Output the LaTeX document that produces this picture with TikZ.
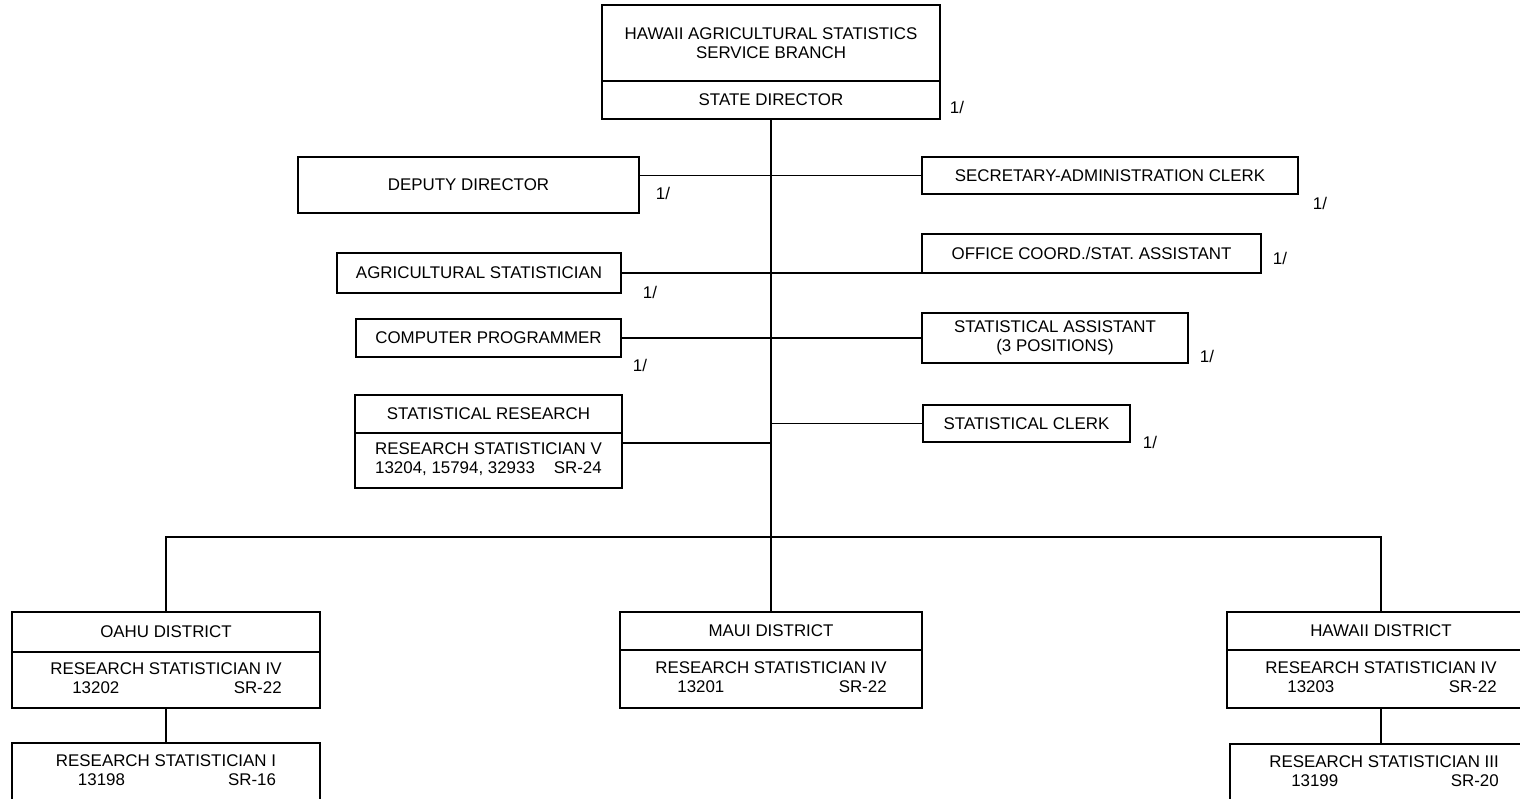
\documentclass[tikz,border=0pt]{standalone}
\usepackage{fontspec}
\setmainfont{Liberation Sans}
\usetikzlibrary{positioning}

\begin{document}
\begin{tikzpicture}[x=1pt, y=-1pt, % one unit = one pixel, y downwards
    box/.style={draw, line width=1.4pt, inner sep=0pt, outer sep=0pt, align=center,
      font=\fontsize{16.9}{19}\selectfont},
    link/.style={line width=1.5pt},
    note/.style={inner sep=0pt, font=\fontsize{16.9}{19}\selectfont}]
    \useasboundingbox (0,0) rectangle (1520,799);

    % Branch and state director
    \node[box, anchor=north west, minimum width=338pt, minimum height=76pt] (branch) at (602,5)
      {HAWAII AGRICULTURAL STATISTICS\\SERVICE BRANCH};
    \node[box, below=0pt of branch, minimum width=338pt, minimum height=38pt] (director) {STATE DIRECTOR};
    \node[note] (n0) at (957,107) {1/};

    % Left staff
    \node[box, anchor=north west, minimum width=341pt, minimum height=56pt] (deputy) at (298,157) {DEPUTY DIRECTOR};
    \node[box, anchor=north west, minimum width=284pt, minimum height=40pt] (agstat) at (337,253) {AGRICULTURAL STATISTICIAN};
    \node[box, anchor=north west, minimum width=265pt, minimum height=38pt] (programmer) at (356,319) {COMPUTER PROGRAMMER};
    \node[box, anchor=north west, minimum width=267pt, minimum height=38pt] (research) at (355,395) {STATISTICAL RESEARCH};
    \node[box, below=0pt of research, minimum width=267pt, minimum height=55pt] (researchrs)
      {\begin{tabular}{@{}c@{}}RESEARCH STATISTICIAN V\\13204, 15794, 32933\hfill SR-24\end{tabular}};
    \node[note] (n1) at (663,193) {1/};
    \node[note] (n2) at (650,292) {1/};
    \node[note] (n3) at (640,365) {1/};

    % Right staff
    \node[box, anchor=north west, minimum width=376pt, minimum height=37pt] (secretary) at (922,157) {SECRETARY-ADMINISTRATION CLERK};
    \node[box, anchor=north west, minimum width=339pt, minimum height=39pt] (officecoord) at (922,234) {OFFICE COORD./STAT. ASSISTANT};
    \node[box, anchor=north west, minimum width=266pt, minimum height=50pt] (statasst) at (922,313) {STATISTICAL ASSISTANT\\(3 POSITIONS)};
    \node[box, anchor=north west, minimum width=207pt, minimum height=37pt] (clerk) at (923,405) {STATISTICAL CLERK};
    \node[note] (n4) at (1320,203) {1/};
    \node[note] (n5) at (1280,258) {1/};
    \node[note] (n6) at (1207,356) {1/};
    \node[note] (n7) at (1150,442) {1/};

    % Districts
    \node[box, anchor=north west, minimum width=308pt, minimum height=40pt] (oahu) at (12,612) {OAHU DISTRICT};
    \node[box, below=0pt of oahu, minimum width=308pt, minimum height=56pt] (oahurs)
      {\begin{tabular}{@{}c@{}}RESEARCH STATISTICIAN IV\\\hspace*{22pt}13202\hfill SR-22\end{tabular}};
    \node[box, anchor=north west, minimum width=308pt, minimum height=62pt] (oahusub) at (12,743)
      {\begin{tabular}{@{}c@{}}RESEARCH STATISTICIAN I\\\hspace*{22pt}13198\hfill SR-16\end{tabular}\\[0pt]};
    \node[box, anchor=north west, minimum width=302pt, minimum height=38pt] (maui) at (620,612) {MAUI DISTRICT};
    \node[box, below=0pt of maui, minimum width=302pt, minimum height=58pt] (mauirs)
      {\begin{tabular}{@{}c@{}}RESEARCH STATISTICIAN IV\\\hspace*{22pt}13201\hfill SR-22\end{tabular}};
    \node[box, anchor=north west, minimum width=308pt, minimum height=38pt] (hawaii) at (1227,612) {HAWAII DISTRICT};
    \node[box, below=0pt of hawaii, minimum width=308pt, minimum height=58pt] (hawaiirs)
      {\begin{tabular}{@{}c@{}}RESEARCH STATISTICIAN IV\\\hspace*{22pt}13203\hfill SR-22\end{tabular}};
    \node[box, anchor=north west, minimum width=308pt, minimum height=62pt] (hawaiisub) at (1230,744)
      {\begin{tabular}{@{}c@{}}RESEARCH STATISTICIAN III\\\hspace*{22pt}13199\hfill SR-20\end{tabular}\\[0pt]};

    % Connectors
    \coordinate (rsjoin) at (director.south |- 0,443);
    \coordinate (fork) at (director.south |- 0,537);
    \draw[link] (director.south) -- (director.south |- maui.north);
    \draw[link] (deputy.east |- secretary.west) -- (secretary.west);
    \draw[link] (agstat.east) -- (agstat.east -| officecoord.west);
    \draw[link] (programmer.east) -- (programmer.east -| statasst.west);
    \draw[link] (researchrs.east |- rsjoin) -- (rsjoin);
    \draw[link] (clerk.west) -- (clerk.west -| director.south);
    \draw[link] (oahu.north) |- (fork) -| (hawaii.north);
    \draw[link] (oahurs.south) -- (oahusub.north);
    \draw[link] (hawaiirs.south) -- (hawaiirs.south |- hawaiisub.north);
\end{tikzpicture}
\end{document}
